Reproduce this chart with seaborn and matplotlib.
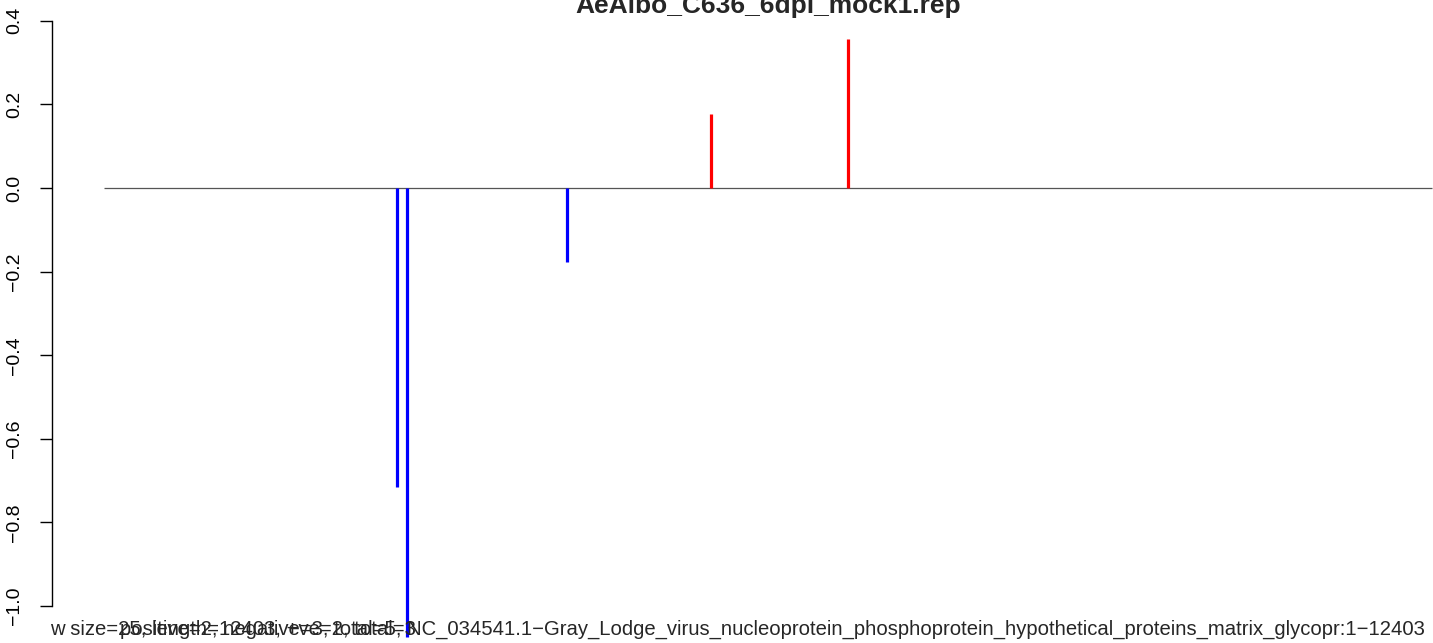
import matplotlib
matplotlib.use("Agg")
import matplotlib.pyplot as plt
import seaborn as sns
import numpy as np

# ---- data ----
title = "AeAlbo_C636_6dpi_mock1.rep"
positions = [2734, 2833, 4327, 5672, 6951]
values = [-0.715, -1.075, -0.178, 0.177, 0.356]
genome_length = 12403
ytick_values = [0.4, 0.2, 0.0, -0.2, -0.4, -0.6, -0.8, -1.0]
ytick_labels = ["0.4", "0.2", "0.0", "\u22120.2", "\u22120.4", "\u22120.6", "\u22120.8", "\u22121.0"]
xlabel_a = "w size=25, length=12403, +ve=2, total=3"
xlabel_b = "positive=2, negative=3, total=5, NC_034541.1\u2212Gray_Lodge_virus_nucleoprotein_phosphoprotein_hypothetical_proteins_matrix_glycopr:1\u221212403"

sns.set_style("white")
plt.rcParams['font.family'] = ['Liberation Sans', 'DejaVu Sans']

W, H, DPI = 1433, 643, 100
fig = plt.figure(figsize=(W / DPI, H / DPI), dpi=DPI)
ax = fig.add_axes([0, 0, 1, 1])

# layout (pixels)
x0_px, xend_px = 104, 1432
y0_px, ppu = 188, 418.0
sx = (xend_px - x0_px) / genome_length
ax.set_xlim(-x0_px / sx, (W - x0_px) / sx)
ax.set_ylim(-(H - y0_px) / ppu, y0_px / ppu)

colors = ["red" if v > 0 else "blue" for v in values]
ax.hlines(0, 0, genome_length, color="#555555", lw=0.9, zorder=1)
ax.vlines(positions, 0, values, colors=colors, lw=2.3, zorder=2)

for s in ["top", "right", "bottom"]:
    ax.spines[s].set_visible(False)
ax.spines["left"].set_position(("axes", 52 / W))
ax.spines["left"].set_bounds(-1.0, 0.4)
ax.spines["left"].set_linewidth(1.0)
ax.spines["left"].set_color("black")
ax.set_yticks(ytick_values)
ax.set_yticklabels(ytick_labels, rotation=90, va="center", fontsize=14)
ax.tick_params(axis="y", left=True, length=9, width=1.0, pad=12, colors="black")
ax.set_xticks([])

fig.text(768 / W, 1 - 13 / H, title, ha="center", va="baseline",
         fontsize=19, fontweight="bold")
fig.text(50 / W, 1 - 635 / H, xlabel_a, ha="left", va="baseline", fontsize=14.6)
fig.text(1425 / W, 1 - 635 / H, xlabel_b, ha="right", va="baseline", fontsize=14.6)

fig.savefig("out.png", dpi=DPI)
